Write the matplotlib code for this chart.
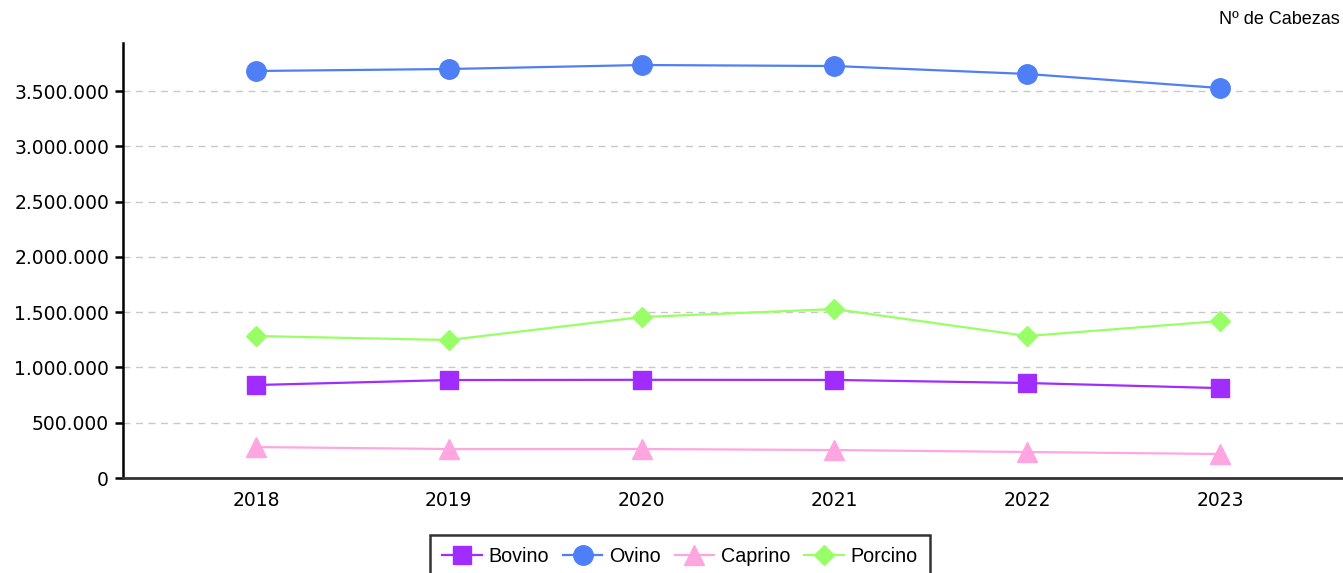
import matplotlib
matplotlib.use("Agg")
import matplotlib.pyplot as plt
from matplotlib.ticker import FuncFormatter

years = [2018, 2019, 2020, 2021, 2022, 2023]
bovino = [841000, 886000, 888000, 887000, 859000, 813000]
ovino = [3681000, 3699000, 3735000, 3726000, 3654000, 3527000]
caprino = [280000, 262000, 262000, 253000, 235000, 217000]
porcino = [1284000, 1248000, 1456000, 1528000, 1284000, 1420000]
yticks = [0, 500000, 1000000, 1500000, 2000000, 2500000, 3000000, 3500000]

fig = plt.figure(figsize=(13.43, 5.73), dpi=100)
ax = fig.add_axes([123/1343, 1-478/573, 1220/1343, (478-43)/573])

ax.plot(years, bovino, color="#a12cff", marker="s", markersize=13, lw=1.6, label="Bovino", zorder=3)
ax.plot(years, ovino, color="#4f7ff7", marker="o", markersize=14, lw=1.6, label="Ovino", zorder=3)
ax.plot(years, caprino, color="#ffa6e0", marker="^", markersize=14, lw=1.6, label="Caprino", zorder=3)
ax.plot(years, porcino, color="#99ff66", marker="D", markersize=10, lw=1.6, label="Porcino", zorder=3)

ax.set_xlim(2018 - 133/192.8, 2023 + 123/192.8)
ax.set_ylim(0, 435/110.57*1e6)
ax.set_xticks(years)
ax.set_yticks(yticks)
ax.yaxis.set_major_formatter(FuncFormatter(lambda v, p: f"{int(v):,}".replace(",", ".")))
ax.grid(axis="y", color="#c8c8c8", linestyle=(0, (5, 4)), lw=1)
ax.set_axisbelow(True)
for s in ["top", "right"]:
    ax.spines[s].set_visible(False)
ax.spines["left"].set_linewidth(1.8)
ax.spines["bottom"].set_color("#333333")
ax.spines["bottom"].set_linewidth(2)
ax.tick_params(axis="y", length=6, width=1.8, labelsize=13.5, pad=4)
ax.tick_params(axis="x", length=0, labelsize=13.5, pad=9)

fig.text(1340/1343, 1-20/573, "Nº de Cabezas", ha="right", va="center", fontsize=13, family="Liberation Sans")

handles, labels = ax.get_legend_handles_labels()
leg = fig.legend(handles, labels, loc="upper center", bbox_to_anchor=(680/1343, 1-535/573), ncol=4,
                 frameon=True, fancybox=False, edgecolor="black",
                 prop={"family": "Liberation Sans", "size": 14.2}, borderpad=0.6,
                 handlelength=2.0, columnspacing=0.7, handletextpad=0.35, borderaxespad=0)
leg.get_frame().set_linewidth(1.8)

fig.savefig("out.png", dpi=100)
